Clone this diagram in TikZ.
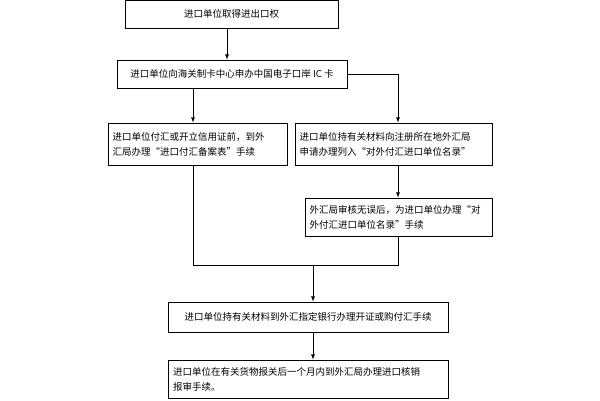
\documentclass[tikz,border=0pt]{standalone}
\usepackage{fontspec}
\newfontfamily\cjk{Noto Sans CJK SC}
\XeTeXlinebreaklocale "zh"
\XeTeXlinebreakskip=0pt plus 1pt
\usetikzlibrary{positioning}
\tikzset{
  stepbox/.style={draw, thick, rectangle, inner sep=0pt, font=\cjk\fontsize{9.5}{15}\selectfont},
  flow/.style={->, thick, >=latex}
}
\begin{document}
\begin{tikzpicture}[x=1pt, y=-1pt]
\useasboundingbox (0,0) rectangle (600,400);
\node[stepbox, minimum width=213pt, minimum height=28pt] (get) at (231.5,14) {进口单位取得进出口权};
\node[stepbox, minimum width=230pt, minimum height=28pt] (card) at (232,74) {进口单位向海关制卡中心申办中国电子口岸 IC 卡};
\node[stepbox, minimum width=179pt, minimum height=42pt, text width=170pt, align=left] (record) at (197.5,144) {进口单位付汇或开立信用证前，到外\\汇局办理“进口付汇备案表”手续};
\node[stepbox, minimum width=197pt, minimum height=42pt, text width=188pt, align=left] (apply) at (393.5,144) {进口单位持有关材料向注册所在地外汇局\\申请办理列入“对外付汇进口单位名录”};
\node[stepbox, minimum width=187pt, minimum height=38pt, text width=178pt, align=left] (list) at (398.5,217) {外汇局审核无误后，为进口单位办理“对\\外付汇进口单位名录”手续};
\node[stepbox, minimum width=280pt, minimum height=30pt] (bank) at (308,317) {进口单位持有关材料到外汇指定银行办理开证或购付汇手续};
\node[stepbox, minimum width=280pt, minimum height=38pt, text width=270pt, align=left] (check) at (308,379) {进口单位在有关货物报关后一个月内到外汇局办理进口核销\\报审手续。};
\coordinate (joinL) at (193,265);
\coordinate (joinR) at (398,265);
\coordinate (joinM) at (313,265);
\draw[flow] (get.south -| 227,0) -- (card.north -| 227,0);
\draw[flow] (card.south -| 193,0) -- (record.north -| 193,0);
\draw[flow] (card.east) -| (apply.north -| 398,0);
\draw[flow] (apply.south -| 398,0) -- (list.north -| 398,0);
\draw[thick] (record.south -| joinL) -- (joinL) -- (joinR) -- (list.south -| joinR);
\draw[flow] (joinM) -- (bank.north -| joinM);
\draw[flow] (bank.south -| joinM) -- (check.north -| joinM);
\end{tikzpicture}
\end{document}
